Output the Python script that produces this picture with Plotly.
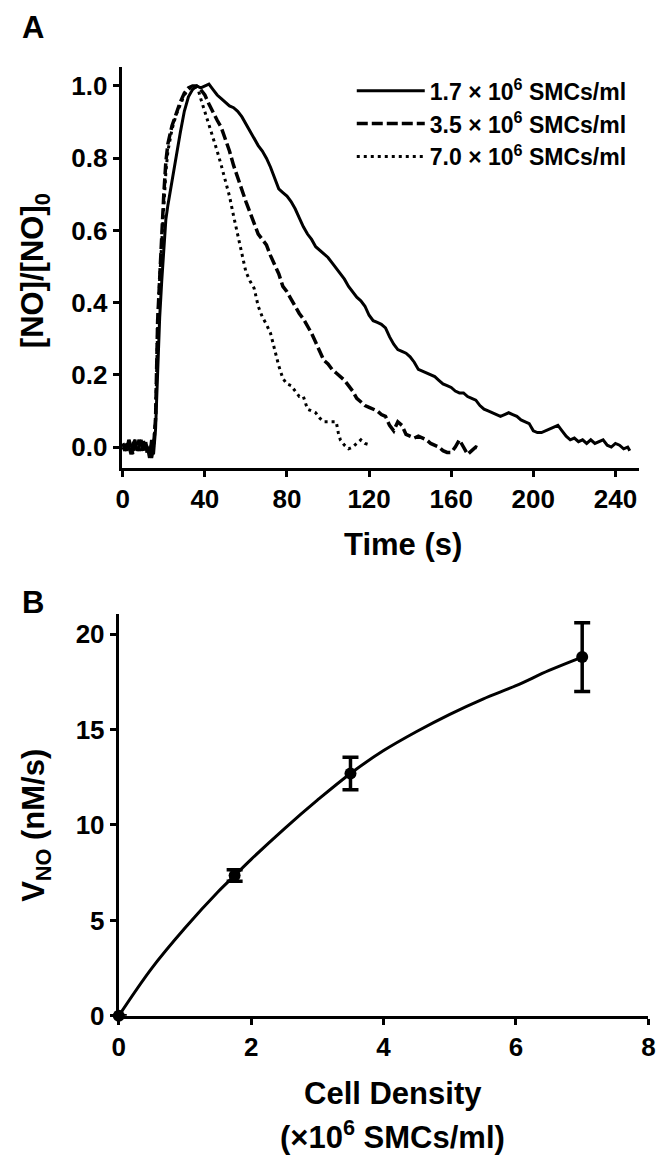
import plotly.graph_objects as go

# ---------------- Panel A data ----------------
t_17 = [0,1,2,3,4,5,6,7,8,9,10,11,12,13,14,15,16,17,18,19,20,21,22,24,26,28,30,32,34,36,38,40,42,44,46,48,50,52,54,56,58,60,62,64,66,68,70,72,74,76,78,80,82,84,86,88,90,92,94,96,98,100,102,104,106,108,110,112,114,116,118,120,122,124,126,128,130,132,134,136,138,140,142,144,146,148,150,152,154,156,158,160,162,164,166,168,170,172,174,176,178,180,182,184,186,188,190,192,194,196,198,200,202,204,206,208,210,212,214,216,218,220,222,224,226,228,230,232,234,236,238,240,242,244,246,247]
v_17 = [0.0,-0.01,0.01,0.0,-0.02,0.01,0.02,-0.01,0.0,0.02,-0.01,0.01,0.0,-0.03,0.02,-0.02,0.05,0.22,0.36,0.46,0.56,0.63,0.67,0.74,0.80,0.87,0.93,0.97,0.99,1.0,0.995,1.0,1.005,0.99,0.975,0.965,0.955,0.945,0.94,0.93,0.915,0.895,0.875,0.855,0.835,0.82,0.80,0.775,0.745,0.715,0.705,0.695,0.68,0.66,0.635,0.61,0.59,0.575,0.555,0.545,0.535,0.525,0.51,0.495,0.48,0.465,0.445,0.43,0.415,0.405,0.39,0.365,0.35,0.345,0.34,0.33,0.305,0.285,0.27,0.265,0.26,0.25,0.235,0.215,0.21,0.205,0.2,0.195,0.185,0.175,0.17,0.165,0.155,0.15,0.15,0.14,0.135,0.13,0.115,0.105,0.1,0.095,0.09,0.085,0.09,0.095,0.09,0.085,0.075,0.07,0.065,0.045,0.04,0.04,0.045,0.05,0.055,0.06,0.045,0.03,0.02,0.025,0.015,0.02,0.01,0.02,0.01,0.015,0.02,0.005,0.0,0.01,0.005,-0.005,0.0,-0.01]

t_35 = [0,1,2,3,4,5,6,7,8,9,10,11,12,13,14,15,16,17,18,19,20,21,22,24,26,28,30,32,34,36,38,40,42,44,46,48,50,52,54,56,58,60,62,64,66,68,70,72,74,76,78,80,82,84,86,88,90,92,94,96,98,100,102,104,106,108,110,112,114,116,118,120,122,124,126,128,130,132,134,136,138,140,142,144,146,148,150,152,154,156,158,160,162,164,166,168,170,172,174]
v_35 = [0.01,0.0,-0.01,0.02,0.0,-0.01,0.01,0.0,0.02,-0.01,0.01,0.02,-0.02,0.0,-0.03,0.0,0.08,0.35,0.48,0.58,0.70,0.79,0.84,0.89,0.925,0.955,0.98,0.995,1.0,1.0,0.99,0.975,0.95,0.925,0.905,0.885,0.855,0.82,0.78,0.745,0.71,0.68,0.65,0.62,0.59,0.575,0.56,0.53,0.505,0.48,0.445,0.43,0.41,0.39,0.37,0.355,0.335,0.315,0.29,0.265,0.24,0.23,0.215,0.205,0.195,0.185,0.17,0.155,0.135,0.125,0.115,0.11,0.105,0.10,0.09,0.085,0.06,0.045,0.07,0.06,0.035,0.03,0.025,0.03,0.025,0.02,0.01,0.005,0.0,-0.01,-0.015,-0.015,0.0,0.02,0.0,-0.02,-0.01,0.0,-0.005]

t_70 = [0,1,2,3,4,5,6,7,8,9,10,11,12,13,14,15,16,17,18,19,20,21,22,24,26,28,30,32,34,36,37,38,40,42,44,46,48,50,52,54,56,58,60,62,64,66,68,70,72,74,76,78,80,82,84,86,88,90,92,94,96,98,100,102,104,105,106,108,110,112,114,116,118,120,121]
v_70 = [0.0,0.01,-0.01,0.0,0.01,-0.02,0.0,0.01,-0.01,0.0,0.02,0.0,-0.01,-0.02,0.01,0.0,0.08,0.33,0.47,0.57,0.68,0.76,0.82,0.88,0.92,0.95,0.975,0.99,1.0,0.995,0.985,0.965,0.93,0.89,0.855,0.82,0.78,0.74,0.695,0.64,0.585,0.53,0.485,0.46,0.44,0.39,0.36,0.34,0.315,0.27,0.225,0.19,0.175,0.17,0.155,0.14,0.14,0.105,0.10,0.095,0.08,0.07,0.07,0.07,0.07,0.04,0.02,0.005,-0.005,0.0,0.01,0.02,0.01,0.008,0.005]

series_names = ["1.7 × 10<sup>6</sup> SMCs/ml",
                "3.5 × 10<sup>6</sup> SMCs/ml",
                "7.0 × 10<sup>6</sup> SMCs/ml"]

a_xticks = [0, 40, 80, 120, 160, 200, 240]
a_yticks = [0.0, 0.2, 0.4, 0.6, 0.8, 1.0]

# ---------------- Panel B data ----------------
density = [0.0, 1.75, 3.5, 7.0]
v_no = [0.0, 7.35, 12.7, 18.8]
v_no_err = [0.0, 0.3, 0.85, 1.8]

fit_x = [0.0, 0.5, 1.0, 1.5, 1.75, 2.0, 2.5, 3.0, 3.5, 4.0, 4.5, 5.0, 5.5, 6.0, 6.5, 7.0]
fit_y = [0.0, 2.5, 4.6, 6.5, 7.35, 8.2, 9.8, 11.3, 12.7, 13.9, 14.9, 15.8, 16.6, 17.3, 18.1, 18.8]

b_xticks = [0, 2, 4, 6, 8]
b_yticks = [0, 5, 10, 15, 20]

# ---------------- Figure ----------------
W, H = 666, 1164
FONT = "Liberation Sans, Arial, Helvetica, sans-serif"

def px_x(p):
    return p / W

def px_y(p):
    return 1 - p / H

fig = go.Figure()

fig.add_trace(go.Scatter(x=t_17, y=v_17, mode="lines", name=series_names[0],
                         line=dict(color="black", width=3, dash="solid"),
                         legendgroup="a", xaxis="x", yaxis="y"))
fig.add_trace(go.Scatter(x=t_35, y=v_35, mode="lines", name=series_names[1],
                         line=dict(color="black", width=3.5, dash="11px,4px"),
                         legendgroup="b", xaxis="x", yaxis="y"))
fig.add_trace(go.Scatter(x=t_70, y=v_70, mode="lines", name=series_names[2],
                         line=dict(color="black", width=3, dash="3px,4px"),
                         legendgroup="c", xaxis="x", yaxis="y"))

fig.add_trace(go.Scatter(x=fit_x, y=fit_y, mode="lines", line_shape="spline",
                         line=dict(color="black", width=3),
                         showlegend=False, xaxis="x2", yaxis="y2", cliponaxis=False))
fig.add_trace(go.Scatter(x=density, y=v_no, mode="markers",
                         marker=dict(color="black", size=12, symbol="circle"),
                         error_y=dict(type="data", array=v_no_err, visible=True,
                                      color="black", thickness=3.5, width=8),
                         showlegend=False, xaxis="x2", yaxis="y2", cliponaxis=False))

axis_common = dict(showline=True, linewidth=3, linecolor="black", ticks="outside",
                   ticklen=6, tickwidth=3, tickcolor="black", showgrid=False,
                   zeroline=False,
                   tickfont=dict(family=FONT, size=26, color="black", weight="bold"))

fig.update_layout(
    width=W, height=H,
    margin=dict(l=0, r=0, t=0, b=0),
    paper_bgcolor="white", plot_bgcolor="white",
    showlegend=True,
    legend=dict(x=px_x(344), y=px_y(62), xanchor="left", yanchor="top",
                font=dict(family=FONT, size=23, color="black", weight="bold"),
                bgcolor="rgba(0,0,0,0)", tracegroupgap=0, itemwidth=68),
    xaxis=dict(domain=[px_x(109), px_x(637)], range=[-0.5, 251.3],
               tickvals=a_xticks, anchor="y", **axis_common),
    yaxis=dict(domain=[px_y(466), px_y(60)], range=[-0.058, 1.052],
               tickvals=a_yticks, tickformat=".1f", anchor="x", **axis_common),
    xaxis2=dict(domain=[px_x(106), px_x(647)], range=[0, 8],
                tickvals=b_xticks, anchor="y2", **axis_common),
    yaxis2=dict(domain=[px_y(1021), px_y(614)], range=[0, 21.05],
                tickvals=b_yticks, anchor="x2", **axis_common),
)

title_font = dict(family=FONT, size=31, color="black", weight="bold")
letter_font = dict(family=FONT, size=31, color="black", weight="bold")
annotations = [
    dict(text="A", x=px_x(5), y=px_y(20), xanchor="left", yanchor="middle", font=letter_font),
    dict(text="B", x=px_x(5), y=px_y(602), xanchor="left", yanchor="middle", font=letter_font),
    dict(text="Time (s)", x=px_x(396), y=px_y(543), xanchor="center", yanchor="middle",
         font=title_font),
    dict(text="[NO]/[NO]<sub>0</sub>", x=px_x(20), y=px_y(266), xanchor="center",
         yanchor="middle", textangle=-90, font=title_font),
    dict(text="V<sub>NO</sub> (nM/s)", x=px_x(22), y=px_y(828), xanchor="center",
         yanchor="middle", textangle=-90, font=title_font),
    dict(text="Cell Density", x=px_x(386), y=px_y(1100), xanchor="center",
         yanchor="middle", font=title_font),
    dict(text="(×10<sup>6</sup> SMCs/ml)", x=px_x(386), y=px_y(1142), xanchor="center",
         yanchor="middle", font=title_font),
]
for a in annotations:
    a.update(xref="paper", yref="paper", showarrow=False)
fig.update_layout(annotations=annotations)

fig.write_html("out.html")
